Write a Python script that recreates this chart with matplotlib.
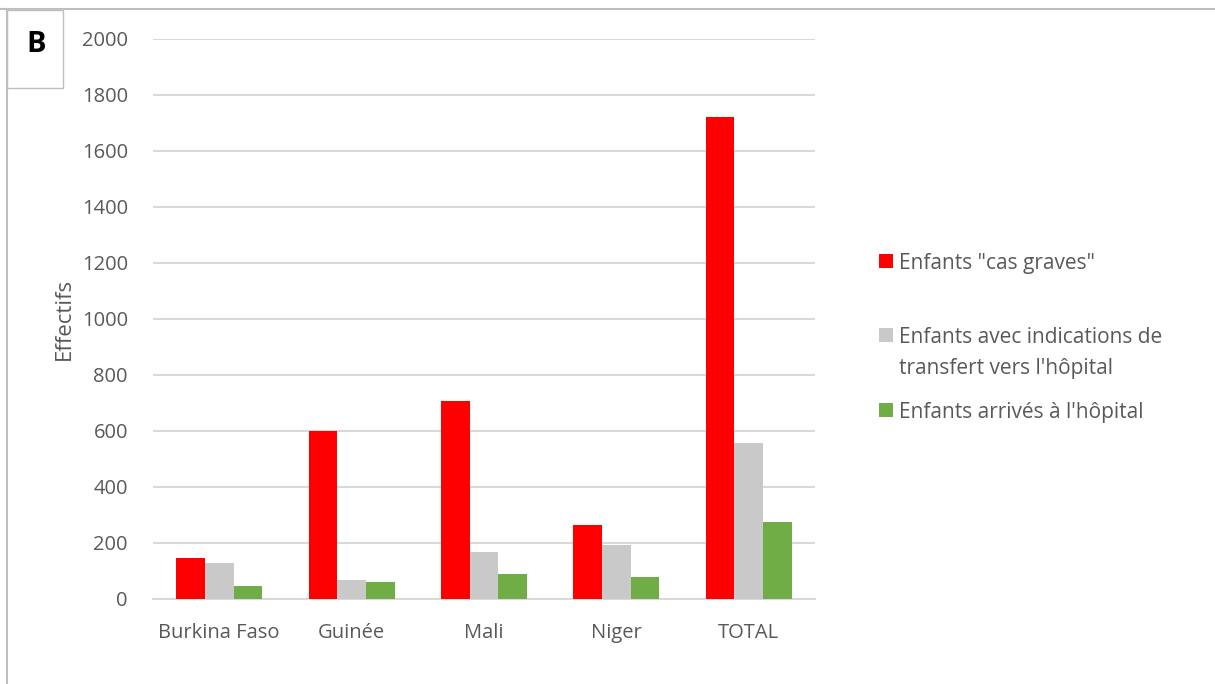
import matplotlib.pyplot as plt
from matplotlib.lines import Line2D
from matplotlib.patches import Rectangle
import numpy as np

plt.rcParams['font.family'] = ['Open Sans', 'DejaVu Sans']

pays = ["Burkina Faso", "Guinée", "Mali", "Niger", "TOTAL"]
cas_graves = [147, 600, 708, 266, 1721]
transfert = [129, 67, 168, 193, 558]
arrives = [45, 60, 88, 78, 276]

series = ['Enfants "cas graves"',
          "Enfants avec indications de\ntransfert vers l'hôpital",
          "Enfants arrivés à l'hôpital"]
couleurs = ["#ff0000", "#c9c9c9", "#70ad47"]

W, H = 1215, 684
fig = plt.figure(figsize=(W / 100, H / 100), dpi=100)
ax = fig.add_axes([153 / W, 1 - 599 / H, (815 - 153) / W, (599 - 39) / H])

x = np.arange(len(pays))
w = 0.217
for i, (vals, c) in enumerate(zip([cas_graves, transfert, arrives], couleurs)):
    ax.bar(x + (i - 1) * w, vals, w, color=c, zorder=3, label=series[i])

ax.set_xlim(-0.5, 4.5)
ax.set_ylim(0, 2000)
ax.set_yticks(range(0, 2001, 200))
ax.set_xticks(x)
ax.set_xticklabels(pays)
ax.grid(axis="y", color="#d9d9d9", lw=1.5, zorder=0)
for s in ["top", "right", "left"]:
    ax.spines[s].set_visible(False)
ax.spines["bottom"].set_color("#d9d9d9")
ax.spines["bottom"].set_linewidth(1.5)
ax.tick_params(length=0, labelsize=14.5, labelcolor="#595959")
ax.tick_params(axis="x", pad=17)
ax.tick_params(axis="y", pad=18)
ax.set_ylabel("Effectifs", fontsize=16, color="#595959", labelpad=5)

# légende à la manière d'Excel : le carré est aligné sur la première ligne
leg_y = [261, 335, 410]
for lab, c, yy in zip(series, couleurs, leg_y):
    fig.add_artist(Rectangle((879 / W, 1 - (yy + 7) / H), 14 / W, 14 / H,
                             facecolor=c, edgecolor="none"))
    fig.text(899 / W, 1 - (yy - 8) / H, lab, fontsize=15, color="#595959",
             ha="left", va="top", linespacing=1.65)

# cadre
fig.add_artist(Line2D([0, 1], [1 - 9 / H, 1 - 9 / H], color="#bfbfbf", lw=1.5))
fig.add_artist(Line2D([7 / W, 7 / W], [0, 1 - 9 / H], color="#bfbfbf", lw=1.5))
fig.add_artist(Rectangle((7 / W, 1 - 88 / H), 56 / W, 78 / H, fill=False,
                         edgecolor="#bfbfbf", lw=1))
fig.text(36 / W, 1 - 44 / H, "B", fontsize=21, fontweight="bold",
         ha="center", va="center", color="black")

fig.savefig("out.png", dpi=100)
